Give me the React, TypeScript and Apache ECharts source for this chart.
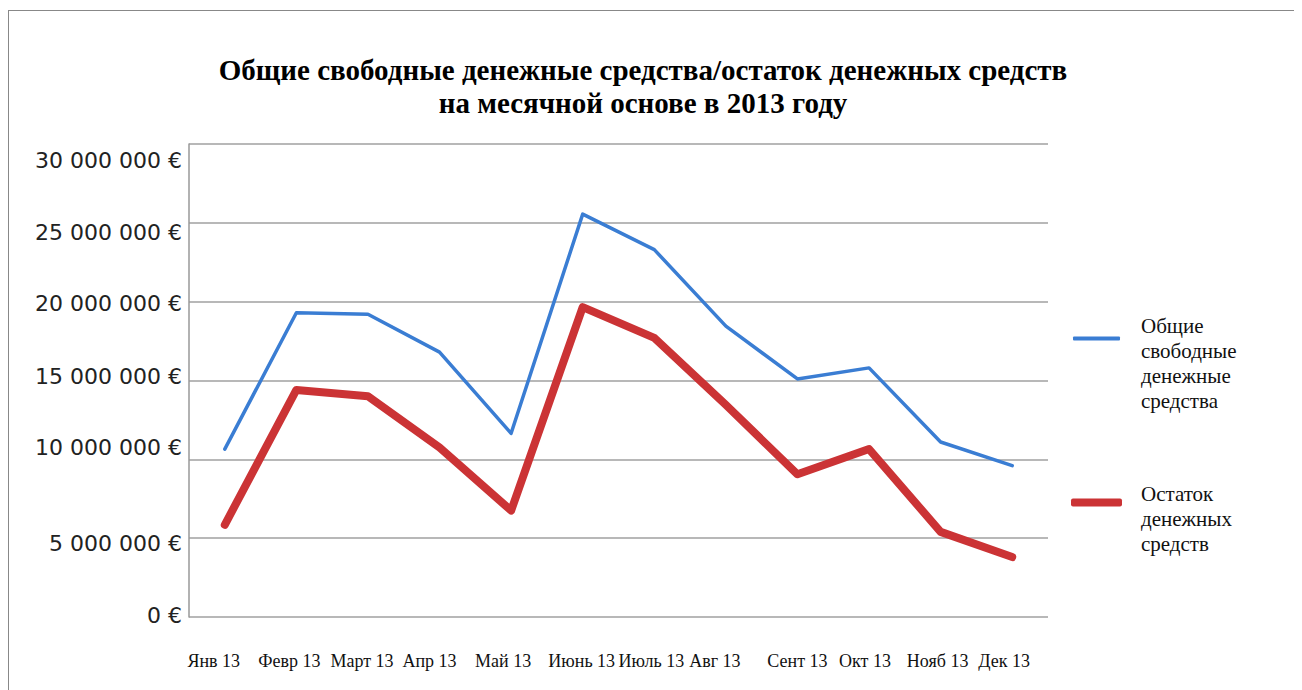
import React, { useEffect, useRef } from "react";
import * as echarts from "echarts";

const months = ["Янв 13", "Февр 13", "Март 13", "Апр 13", "Май 13", "Июнь 13", "Июль 13", "Авг 13", "Сент 13", "Окт 13", "Нояб 13", "Дек 13"];
const totalCash = [10650000, 19300000, 19200000, 16800000, 11650000, 25550000, 23300000, 18450000, 15100000, 15800000, 11100000, 9600000];
const cashBalance = [5850000, 14400000, 14000000, 10750000, 6750000, 19650000, 17700000, 13450000, 9050000, 10650000, 5400000, 3800000];
const seriesNames = ["Общие свободные денежные средства", "Остаток денежных средств"];
const titleText = "Общие свободные денежные средства/остаток денежных средств\nна месячной основе в 2013 году";

// label nudges (styling only)
const yLabelShift = [-2, 5, -12, -4, 2, 10, 16];
const xLabelShift = [-11, -7, -6, -10, -8, -1, -3, -11, 0, -4, -3, -8];

export default function App() {
  const ref = useRef<HTMLDivElement>(null);
  useEffect(() => {
    if (!ref.current) return;
    const chart = echarts.init(ref.current, undefined, { renderer: "svg" });

    const yRich: Record<string, any> = {};
    yLabelShift.forEach((d, i) => {
      yRich["y" + i] = {
        fontFamily: "DejaVu Sans",
        fontSize: 22,
        color: "#222",
        padding: d >= 0 ? [2 * d, 0, 0, 0] : [0, 0, -2 * d, 0],
      };
    });
    const xRich: Record<string, any> = {};
    xLabelShift.forEach((d, i) => {
      xRich["x" + i] = {
        fontFamily: "Liberation Serif",
        fontSize: 18,
        color: "#111",
        padding: d <= 0 ? [0, -2 * d, 0, 0] : [0, 0, 0, 2 * d],
      };
    });

    const fmtNum = (v: number) =>
      String(Math.round(v)).replace(/\B(?=(\d{3})+(?!\d))/g, " ") + " €";

    const legendText = {
      fontFamily: "Liberation Serif",
      fontSize: 21,
      lineHeight: 25,
      color: "#111",
      padding: [0, 0, 0, 16],
    };

    chart.setOption({
      animation: false,
      backgroundColor: "#fff",
      title: {
        text: titleText,
        left: 630,
        top: 40,
        textAlign: "center",
        textStyle: {
          fontFamily: "Liberation Serif",
          fontWeight: "bold",
          fontSize: 29,
          lineHeight: 33,
          color: "#000",
        },
      },
      graphic: [
        { type: "line", shape: { x1: 0, y1: 2.5, x2: 1294, y2: 2.5 }, style: { stroke: "#888", lineWidth: 1 } },
        { type: "line", shape: { x1: 0.5, y1: 2, x2: 0.5, y2: 682 }, style: { stroke: "#888", lineWidth: 1 } },
      ],
      legend: [
        {
          data: [seriesNames[0]],
          orient: "vertical",
          left: 1065,
          top: 256,
          padding: 0,
          icon: "roundRect",
          itemWidth: 47,
          itemHeight: 4,
          formatter: (n: string) => "{gap| }\n" + n.split(" ").join("\n"),
          textStyle: { ...legendText, rich: { gap: { height: 49, fontSize: 1, lineHeight: 49 } } },
        },
        {
          data: [seriesNames[1]],
          orient: "vertical",
          left: 1063,
          top: 441,
          padding: 0,
          icon: "roundRect",
          itemWidth: 51,
          itemHeight: 8,
          formatter: (n: string) => "{gap| }\n" + n.split(" ").join("\n"),
          textStyle: { ...legendText, padding: [0, 0, 0, 14], rich: { gap: { height: 32, fontSize: 1, lineHeight: 32 } } },
        },
      ],
      grid: { left: 181, top: 136, right: 254, bottom: 73, containLabel: false },
      xAxis: {
        type: "category",
        data: months,
        boundaryGap: true,
        axisLine: { show: false },
        axisTick: { show: false },
        axisLabel: {
          margin: 35,
          interval: 0,
          formatter: (v: string) => {
            const i = months.indexOf(v);
            return "{x" + i + "|" + v + "}";
          },
          rich: xRich,
        },
      },
      yAxis: {
        type: "value",
        min: 0,
        max: 30000000,
        interval: 5000000,
        axisLine: { show: true, lineStyle: { color: "#999", width: 1.5 } },
        axisTick: { show: false },
        splitLine: { show: true, lineStyle: { color: "#a0a0a0", width: 1.5 } },
        axisLabel: {
          margin: 7,
          formatter: (v: number) => {
            const i = Math.round(v / 5000000);
            return "{y" + i + "|" + fmtNum(v) + "}";
          },
          rich: yRich,
        },
      },
      series: [
        {
          name: seriesNames[0],
          type: "line",
          data: totalCash,
          symbol: "none",
          lineStyle: { color: "#3a7dd3", width: 3.5, cap: "round", join: "round" },
          itemStyle: { color: "#3a7dd3" },
        },
        {
          name: seriesNames[1],
          type: "line",
          data: cashBalance,
          symbol: "none",
          lineStyle: { color: "#cb3335", width: 8, cap: "round", join: "round" },
          itemStyle: { color: "#cb3335" },
        },
      ],
    });
    return () => chart.dispose();
  }, []);
  return <div ref={ref} style={{ width: 1294, height: 682 }} />;
}
